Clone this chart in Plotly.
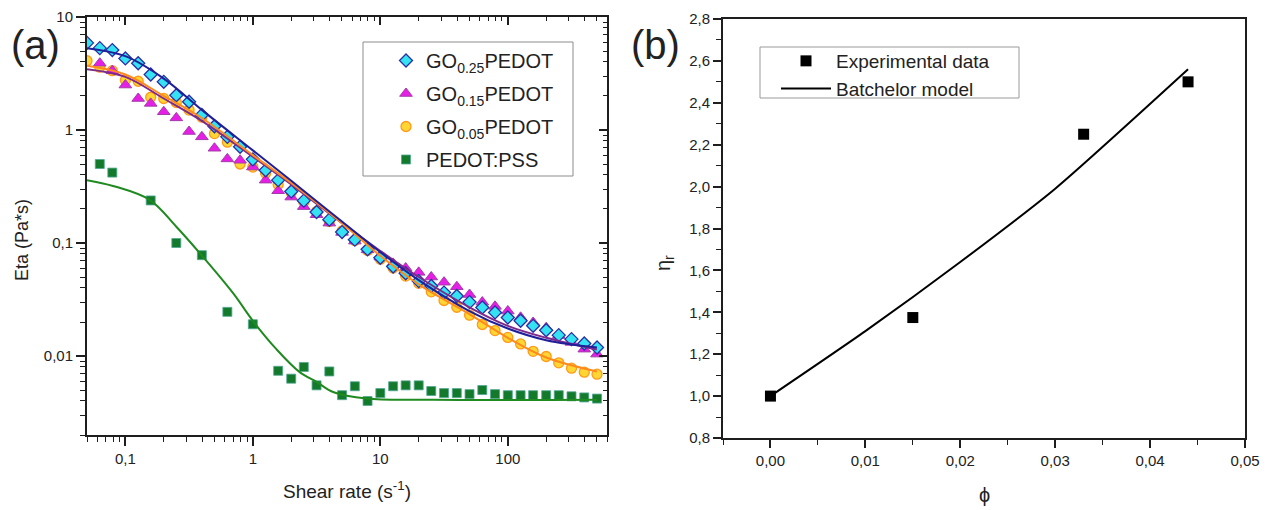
import math
import plotly.graph_objects as go

# ---------------- data: panel (a) ----------------
shear = [0.05, 0.063, 0.079, 0.1, 0.126, 0.158, 0.2, 0.251, 0.316, 0.398, 0.5, 0.631, 0.794,
         1.0, 1.26, 1.58, 2.0, 2.51, 3.16, 3.98, 5.01, 6.31, 7.94, 10, 12.6, 15.8, 20, 25.1,
         31.6, 39.8, 50.1, 63.1, 79.4, 100, 126, 158, 200, 251, 316, 398, 501]
go025 = [5.9, 5.3, 5.1, 4.3, 3.9, 3.1, 2.67, 2.03, 1.78, 1.36, 1.08, 0.87, 0.71, 0.55, 0.44,
         0.36, 0.286, 0.237, 0.188, 0.161, 0.125, 0.107, 0.088, 0.074, 0.062, 0.054, 0.046,
         0.0417, 0.0364, 0.034, 0.030, 0.0269, 0.0243, 0.0219, 0.0205, 0.0185, 0.0169,
         0.0153, 0.0141, 0.0129, 0.0119]
go015 = [None, 3.9, 3.35, 2.5, 1.9, 1.72, 1.45, 1.28, 0.97, 0.87, 0.69, 0.555, 0.54, 0.47,
         0.36, 0.29, 0.255, 0.21, 0.178, 0.15, 0.124, 0.104, 0.087, 0.075, 0.066, 0.06, 0.055,
         0.05, 0.045, 0.041, 0.035, 0.03, 0.0275, 0.025, 0.022, 0.0198, 0.0178, 0.0152,
         0.0132, 0.0115, 0.0104]
go005 = [4.1, 3.6, 3.35, 2.75, 2.7, 1.95, 1.9, 1.75, 1.5, 1.3, 0.93, 0.78, 0.5, 0.47, 0.415,
         0.33, 0.28, 0.23, 0.19, 0.155, 0.128, 0.105, 0.086, 0.072, 0.06, 0.051, 0.044,
         0.037, 0.031, 0.027, 0.023, 0.019, 0.0168, 0.0146, 0.0128, 0.011, 0.0099, 0.0087,
         0.0078, 0.0072, 0.0069]
pedot_x = [0.063, 0.079, 0.158, 0.251, 0.398, 0.631, 1.0, 1.58, 2.0, 2.51, 3.16, 3.98, 5.01,
           6.31, 7.94, 10, 12.6, 15.8, 20, 25.1, 31.6, 39.8, 50.1, 63.1, 79.4, 100, 126, 158,
           200, 251, 316, 398, 501]
pedot_y = [0.5, 0.42, 0.238, 0.1, 0.078, 0.0246, 0.0191, 0.0074, 0.0063, 0.008, 0.0055,
           0.0073, 0.0045, 0.0054, 0.004, 0.0047, 0.0054, 0.0055, 0.0055, 0.0049, 0.0047,
           0.0047, 0.0046, 0.005, 0.0046, 0.0045, 0.0045, 0.0045, 0.0045, 0.0045, 0.0044,
           0.0043, 0.0042]

# fitted curves
fit_x = [0.05, 0.1, 0.2, 0.4, 1, 2, 5, 10, 20, 50, 100, 200, 500]
fit025 = [5.3, 4.5, 2.85, 1.5, 0.66, 0.355, 0.155, 0.083, 0.047, 0.025, 0.0175, 0.0138, 0.0119]
fit015 = [3.45, 2.95, 1.9, 1.2, 0.58, 0.33, 0.15, 0.085, 0.05, 0.027, 0.0185, 0.0145, 0.0114]
fit005 = [3.7, 3.1, 2.0, 1.27, 0.6, 0.34, 0.15, 0.077, 0.043, 0.0235, 0.0145, 0.0097, 0.0073]
gfit_x = [0.05, 0.08, 0.156, 0.25, 0.4, 0.7, 1, 1.53, 2.33, 3.16, 4.26, 7.8, 26, 500]
gfit_y = [0.36, 0.32, 0.24, 0.14, 0.077, 0.036, 0.0205, 0.0115, 0.0072, 0.0059, 0.0048,
          0.0042, 0.0041, 0.0041]

a_xtickvals = [0.1, 1, 10, 100]
a_xticktext = ["0,1", "1", "10", "100"]
a_ytickvals = [0.01, 0.1, 1, 10]
a_yticktext = ["0,01", "0,1", "1", "10"]

# ---------------- data: panel (b) ----------------
phi = [0.0, 0.015, 0.033, 0.044]
eta_r = [1.0, 1.375, 2.25, 2.5]
model_phi = [0.0, 0.01, 0.02, 0.03, 0.044]
model_eta = [1.0, 1.31, 1.64, 1.99, 2.56]

b_xtickvals = [0.0, 0.01, 0.02, 0.03, 0.04, 0.05]
b_xticktext = ["0,00", "0,01", "0,02", "0,03", "0,04", "0,05"]
b_ytickvals = [0.8, 1.0, 1.2, 1.4, 1.6, 1.8, 2.0, 2.2, 2.4, 2.6, 2.8]
b_yticktext = ["0,8", "1,0", "1,2", "1,4", "1,6", "1,8", "2,0", "2,2", "2,4", "2,6", "2,8"]

# ---------------- figure ----------------
W, H = 1273, 510
FONT = "Liberation Sans, Arial, sans-serif"
AX = "#1e1e1e"


def px(x):
    return x / W


def py(y):
    return 1 - y / H


fig = go.Figure()

# markers panel (a)
fig.add_trace(go.Scatter(x=shear, y=go005, mode="markers", name="GO<sub>0.05</sub>PEDOT",
                         legendrank=3, legendgroup="g3",
                         marker=dict(symbol="circle", size=10, color="#ffd633",
                                     line=dict(color="#ff9a1a", width=1.3))))
fig.add_trace(go.Scatter(x=shear, y=go015, mode="markers", name="GO<sub>0.15</sub>PEDOT",
                         legendrank=2, legendgroup="g2",
                         marker=dict(symbol="triangle-up", size=11, color="#e61ee6",
                                     line=dict(color="#a23ca8", width=1))))
fig.add_trace(go.Scatter(x=shear, y=go025, mode="markers", name="GO<sub>0.25</sub>PEDOT",
                         legendrank=1, legendgroup="g1",
                         marker=dict(symbol="diamond", size=10, color="#35e2f2",
                                     line=dict(color="#2b2fa3", width=1.3))))
fig.add_trace(go.Scatter(x=pedot_x, y=pedot_y, mode="markers", name="PEDOT:PSS",
                         legendrank=4, legendgroup="g4",
                         marker=dict(symbol="square", size=9, color="#137a2c",
                                     line=dict(color="#52a894", width=0.8))))

# fit lines panel (a)
for yy, col in [(fit015, "#7d2a8c"), (fit005, "#ff8a1c"), (fit025, "#1f1f99")]:
    fig.add_trace(go.Scatter(x=fit_x, y=yy, mode="lines", showlegend=False,
                             line=dict(color=col, width=2, shape="spline", smoothing=1.0)))
fig.add_trace(go.Scatter(x=gfit_x, y=gfit_y, mode="lines", showlegend=False,
                         line=dict(color="#1f8a1f", width=2, shape="spline", smoothing=1.0)))

# empty traces so the mirrored (top / right) axes of panel (a) get drawn
fig.add_trace(go.Scatter(x=[], y=[], xaxis="x3", yaxis="y", showlegend=False, hoverinfo="skip"))
fig.add_trace(go.Scatter(x=[], y=[], xaxis="x", yaxis="y3", showlegend=False, hoverinfo="skip"))

# panel (b)
fig.add_trace(go.Scatter(x=phi, y=eta_r, mode="markers", name="Experimental data",
                         xaxis="x2", yaxis="y2", legend="legend2", legendgroup="b1",
                         marker=dict(symbol="square", size=11, color="black")))
fig.add_trace(go.Scatter(x=model_phi, y=model_eta, mode="lines", name="Batchelor model",
                         xaxis="x2", yaxis="y2", legend="legend2", legendgroup="b2",
                         line=dict(color="black", width=2, shape="spline", smoothing=0.6)))

xa_dom = [px(87), px(607)]
ya_dom = [py(435), py(17)]
xb_dom = [px(723), px(1245)]
yb_dom = [py(438), py(19)]

a_xrange = [math.log10(0.05), math.log10(600)]
a_yrange = [math.log10(0.002), math.log10(10)]

common = dict(showgrid=False, zeroline=False, showline=True, linecolor=AX, linewidth=2,
              automargin=False,
              tickcolor=AX, tickwidth=1.5, tickfont=dict(family=FONT, size=15, color="#222"))

fig.update_layout(
    width=W, height=H, margin=dict(l=0, r=0, t=0, b=0, pad=0, autoexpand=False),
    paper_bgcolor="white", plot_bgcolor="white",
    font=dict(family=FONT, color="#222"),
    xaxis=dict(domain=xa_dom, anchor="y", type="log", range=a_xrange,
               tickmode="array", tickvals=a_xtickvals, ticktext=a_xticktext,
               ticks="outside", ticklen=9,
               minor=dict(ticks="outside", dtick="D1", ticklen=5, tickwidth=1.2, tickcolor=AX),
               **common),
    yaxis=dict(domain=ya_dom, anchor="x", type="log", range=a_yrange,
               tickmode="array", tickvals=a_ytickvals, ticktext=a_yticktext,
               ticks="outside", ticklen=9,
               minor=dict(ticks="outside", dtick="D1", ticklen=5, tickwidth=1.2, tickcolor=AX),
               **common),
    xaxis3=dict(overlaying="x", anchor="y", side="top", type="log", range=a_xrange,
                tickmode="array", tickvals=a_xtickvals, showticklabels=False,
                ticks="inside", ticklen=8,
                minor=dict(ticks="inside", dtick="D1", ticklen=4, tickwidth=1.2, tickcolor=AX),
                **common),
    yaxis3=dict(overlaying="y", anchor="x", side="right", type="log", range=a_yrange,
                tickmode="array", tickvals=a_ytickvals, showticklabels=False,
                ticks="inside", ticklen=8,
                minor=dict(ticks="inside", dtick="D1", ticklen=4, tickwidth=1.2, tickcolor=AX),
                **common),
    xaxis2=dict(domain=xb_dom, anchor="y2", range=[-0.005, 0.05],
                tickmode="array", tickvals=b_xtickvals, ticktext=b_xticktext,
                ticks="outside", ticklen=8, mirror=True,
                minor=dict(ticks="outside", dtick=0.005, ticklen=5, tickwidth=1.2, tickcolor=AX),
                **common),
    yaxis2=dict(domain=yb_dom, anchor="x2", range=[0.8, 2.8],
                tickmode="array", tickvals=b_ytickvals, ticktext=b_yticktext,
                ticks="outside", ticklen=8, mirror=True,
                minor=dict(ticks="outside", dtick=0.1, ticklen=5, tickwidth=1.2, tickcolor=AX),
                **common),
    legend=dict(x=px(386), y=py(41), xanchor="left", yanchor="top",
                borderwidth=0, bgcolor="rgba(0,0,0,0)",
                font=dict(family=FONT, size=20, color="#222"), itemwidth=30,
                tracegroupgap=4),
    legend2=dict(x=px(776), y=py(42), xanchor="left", yanchor="top",
                 borderwidth=0, bgcolor="rgba(0,0,0,0)",
                 font=dict(family=FONT, size=19, color="#222"), itemwidth=50,
                 tracegroupgap=0),
    showlegend=True,
)

# legend frames
fig.add_shape(type="rect", xref="paper", yref="paper", layer="below",
              x0=px(363), x1=px(573), y0=py(176), y1=py(42),
              line=dict(color="#8c8c8c", width=1), fillcolor="white")
fig.add_shape(type="rect", xref="paper", yref="paper", layer="below",
              x0=px(760), x1=px(1019), y0=py(98), y1=py(47),
              line=dict(color="#9a9a9a", width=1), fillcolor="white")

ann = [
    dict(text="(a)", x=px(35), y=py(45), font=dict(size=40)),
    dict(text="(b)", x=px(656), y=py(45), font=dict(size=40)),
    dict(text="Eta (Pa*s)", x=px(22), y=py(240), textangle=-90, font=dict(size=18)),
    dict(text="Shear rate (s<sup>-1</sup>)", x=px(347), y=py(490), font=dict(size=19)),
    dict(text="η<sub>r</sub>", x=px(664), y=py(263), textangle=-90, font=dict(size=20)),
    dict(text="ϕ", x=px(984), y=py(495), font=dict(size=20)),
]
for a in ann:
    fig.add_annotation(xref="paper", yref="paper", showarrow=False,
                       xanchor="center", yanchor="middle",
                       font_family=FONT, font_color="#222", **a)

fig.write_html("out.html",
               config={"displayModeBar": False},
               post_script="document.body.style.margin='0';document.body.style.overflow='hidden';")
